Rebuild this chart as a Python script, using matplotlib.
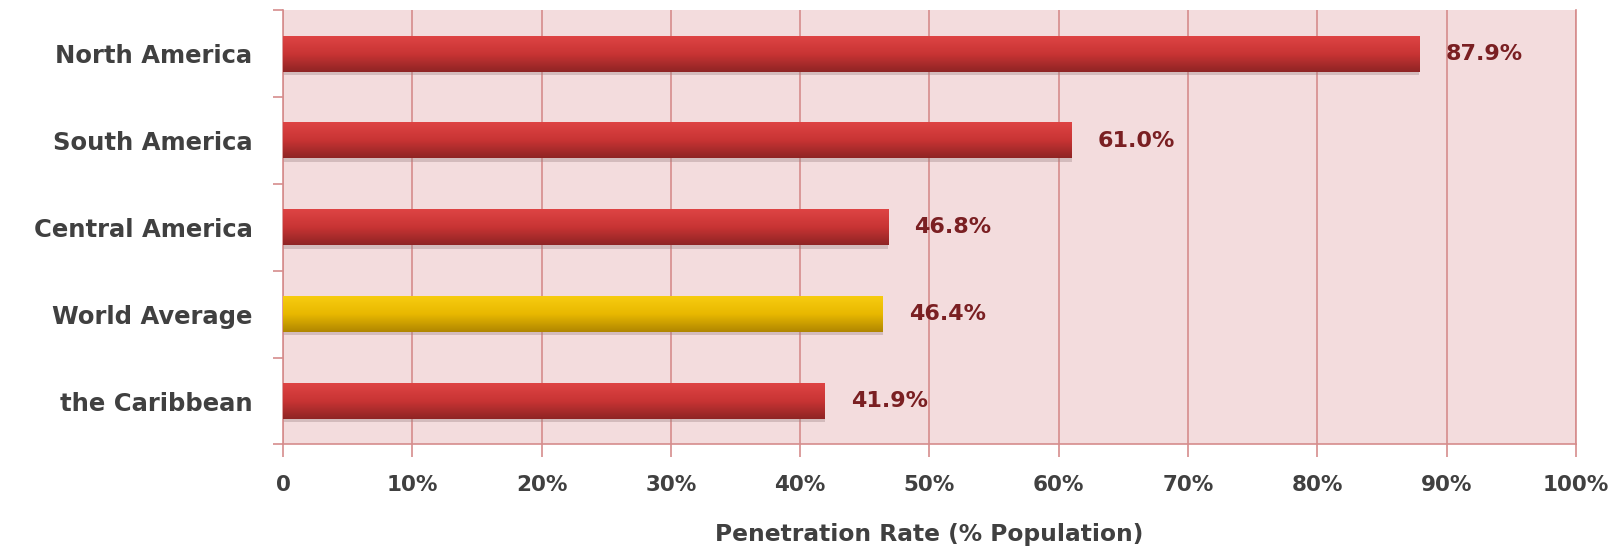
import numpy as np
import matplotlib
matplotlib.use('Agg')
import matplotlib.pyplot as plt
from matplotlib.colors import LinearSegmentedColormap

# data
regions = ['North America', 'South America', 'Central America', 'World Average', 'the Caribbean']
rates = [87.9, 61.0, 46.8, 46.4, 41.9]
highlight = 'World Average'
xticks = [0, 10, 20, 30, 40, 50, 60, 70, 80, 90, 100]
xticklabels = ['0', '10%', '20%', '30%', '40%', '50%', '60%', '70%', '80%', '90%', '100%']

plt.rcParams['font.family'] = ['DejaVu Sans']

grid_col = '#d68c8c'
bg_col = '#f3dcdd'
red_cmap = LinearSegmentedColormap.from_list('red', ['#de4444', '#c83434', '#8f2424'])
gold_cmap = LinearSegmentedColormap.from_list('gold', ['#f7cc10', '#e8b800', '#b08600'])

fig = plt.figure(figsize=(16.17, 5.48), dpi=100)
ax = fig.add_axes([0.175, 0.189, 0.7996, 0.792])
ax.set_facecolor(bg_col)

y = np.arange(len(regions))[::-1]
bar_h = 0.41

# shadow under bars
ax.barh(y - 0.04, rates, height=bar_h, color='#9a8080', alpha=0.35, zorder=2)
bars = ax.barh(y, rates, height=bar_h, color='none', zorder=3)

grad = np.linspace(0, 1, 100).reshape(-1, 1)
for b, name, v in zip(bars, regions, rates):
    x0, y0 = b.get_x(), b.get_y()
    w, h = b.get_width(), b.get_height()
    cm = gold_cmap if name == highlight else red_cmap
    ax.imshow(grad, cmap=cm, aspect='auto', extent=[x0, x0 + w, y0, y0 + h],
              origin='upper', zorder=3)
    ax.text(v + 2.0, y0 + h / 2, f'{v:.1f}%', va='center', ha='left',
            fontsize=16, fontweight='bold', color='#7a1f22', zorder=4)

ax.set_xlim(0, 100)
ax.set_ylim(-0.5, len(regions) - 0.5)

ax.set_xticks(xticks)
ax.set_xticklabels(xticklabels)
ax.xaxis.grid(True, color=grid_col, linewidth=1.2, zorder=1)
ax.set_axisbelow(True)
ax.tick_params(axis='x', length=9, width=1.2, color=grid_col, pad=13,
               labelsize=15.5, labelcolor='#404040')
for lab in ax.get_xticklabels():
    lab.set_fontweight('bold')

ax.set_yticks(y)
ax.set_yticklabels(regions)
ax.set_yticks(np.arange(len(regions) + 1) - 0.5, minor=True)
ax.tick_params(axis='y', which='major', length=0, pad=22, labelsize=17.5,
               labelcolor='#404040')
ax.tick_params(axis='y', which='minor', length=7, width=1.2, color=grid_col)
for lab in ax.get_yticklabels():
    lab.set_fontweight('bold')

ax.spines['top'].set_visible(False)
for s in ['right', 'left', 'bottom']:
    ax.spines[s].set_color(grid_col)
    ax.spines[s].set_linewidth(1.2)

ax.set_xlabel('Penetration Rate (% Population)', fontsize=16.8, fontweight='bold',
              color='#404040', labelpad=20)

fig.savefig('out.png', dpi=100)
